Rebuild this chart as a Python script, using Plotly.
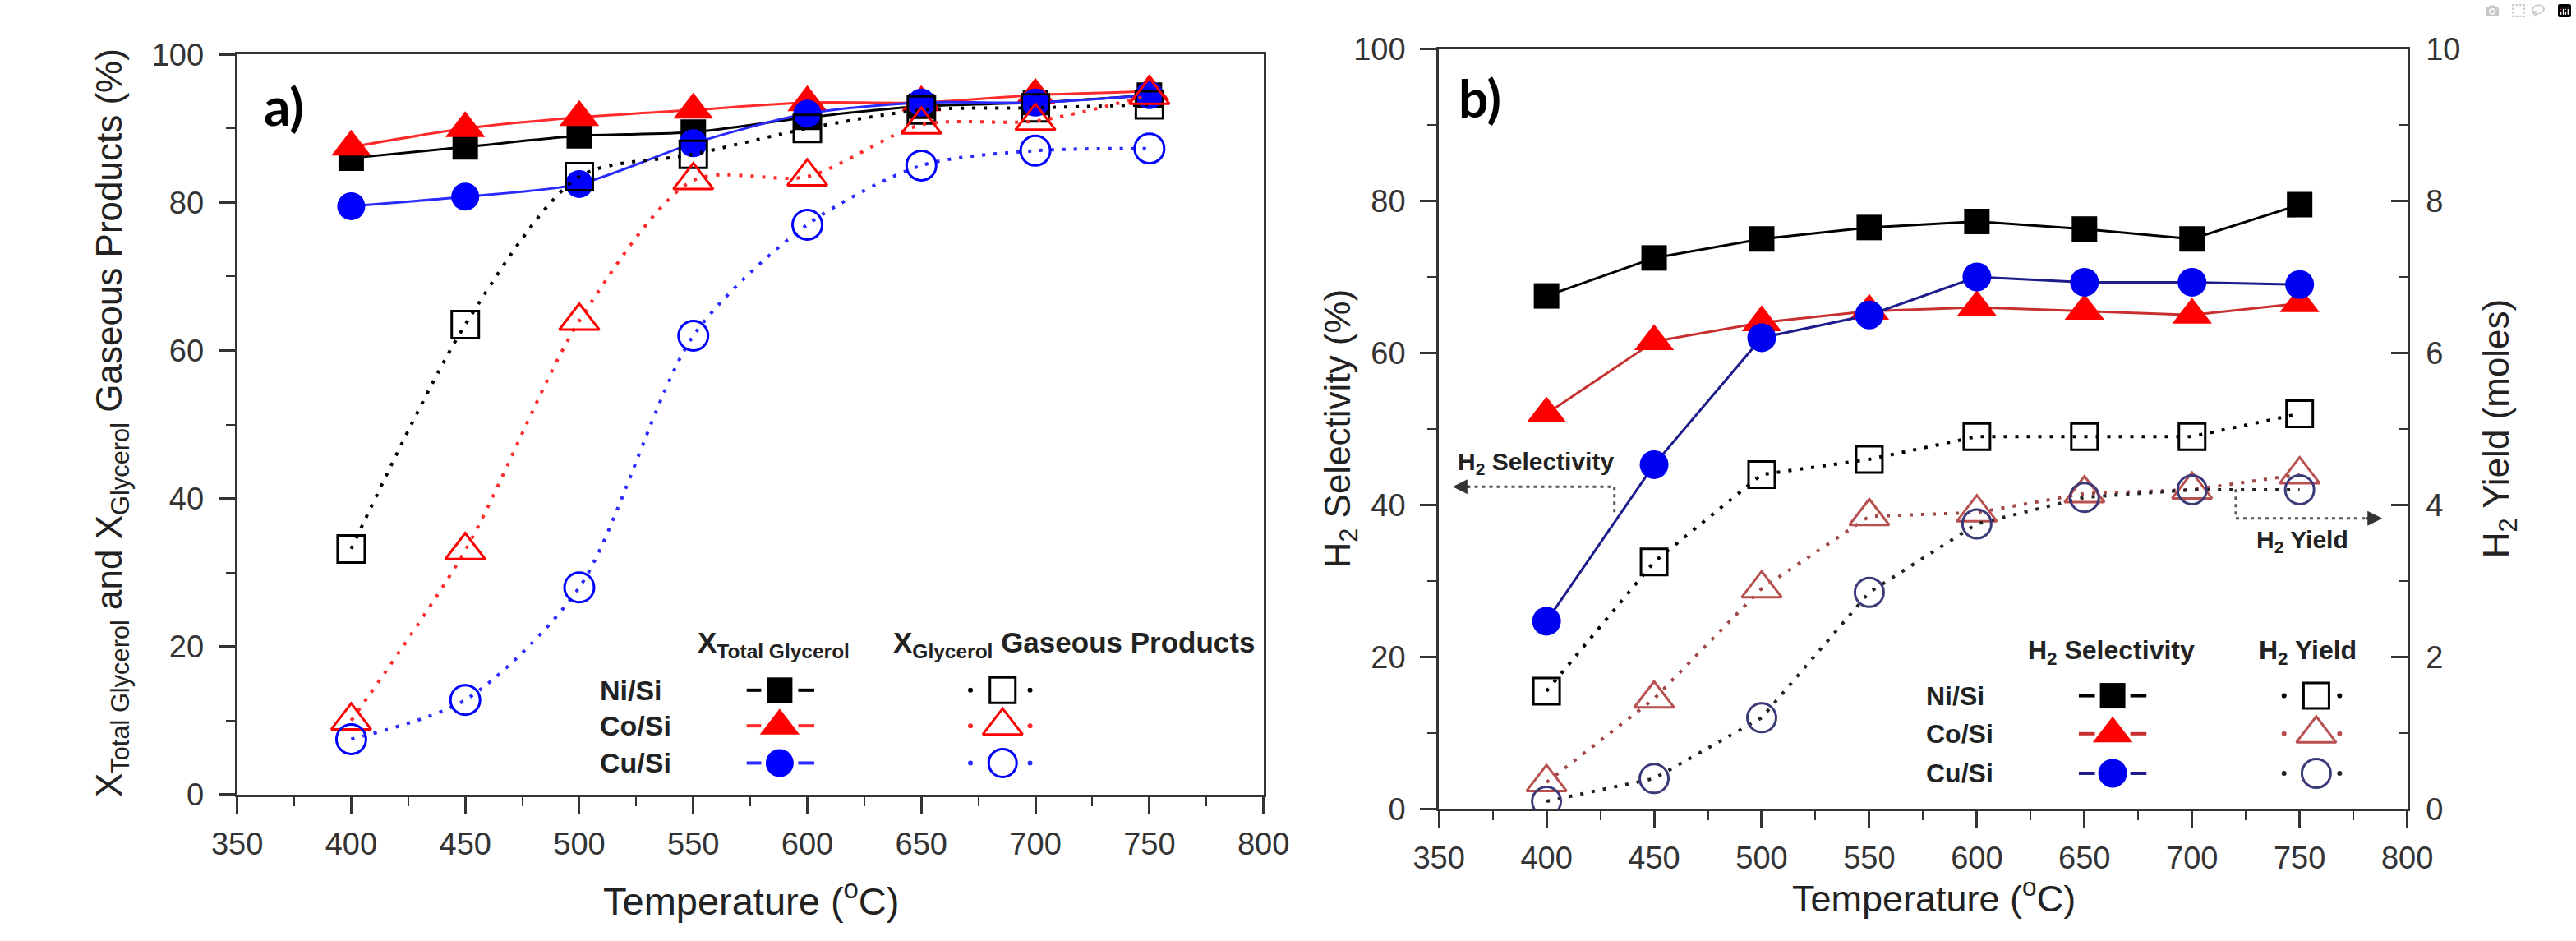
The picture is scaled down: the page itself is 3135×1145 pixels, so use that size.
import plotly.graph_objects as go

# ---------------- data ----------------
temps = [400, 450, 500, 550, 600, 650, 700, 750]

# panel a) conversion (%)
ni_total = [86.0, 87.5, 89.0, 89.5, 91.5, 93.0, 93.5, 94.5]
co_total = [87.5, 90.0, 91.5, 92.5, 93.5, 93.5, 94.5, 95.0]
cu_total = [79.5, 80.8, 82.5, 88.0, 92.0, 93.5, 93.5, 94.5]
ni_gas = [33.2, 63.5, 83.5, 86.5, 90.0, 92.5, 92.8, 93.2]
co_gas = [10.0, 33.0, 64.0, 83.0, 83.5, 90.5, 91.0, 94.5]
cu_gas = [7.5, 12.8, 28.0, 62.0, 77.0, 85.0, 87.0, 87.3]

# panel b) H2 selectivity (%) and H2 yield (moles)
ni_sel = [67.5, 72.5, 75.0, 76.5, 77.3, 76.3, 75.0, 79.5]
co_sel = [52.0, 61.5, 64.0, 65.5, 66.0, 65.5, 65.0, 66.5]
cu_sel = [24.7, 45.3, 62.0, 65.0, 70.0, 69.3, 69.3, 69.0]
ni_yield = [1.55, 3.25, 4.4, 4.6, 4.9, 4.9, 4.9, 5.2]
co_yield = [0.35, 1.45, 2.9, 3.85, 3.9, 4.15, 4.2, 4.4]
cu_yield = [0.1, 0.4, 1.2, 2.85, 3.75, 4.1, 4.2, 4.2]

catalysts = ["Ni/Si", "Co/Si", "Cu/Si"]
x_ticks = [350, 400, 450, 500, 550, 600, 650, 700, 750, 800]

# ---------------- geometry helpers ----------------
W, H = 3135, 1145
def px(x):
    return x / W
def py(y):
    return 1 - y / H

AX = "#333333"
FONT = "Liberation Sans, Arial, sans-serif"
DOT = "4px,10px"

fig = go.Figure()

# ---------------- panel a ----------------
a_sets = [
    (ni_total, ni_gas, "black", "black", "square", 31, 33),
    (co_total, co_gas, "#ff0000", "#ff2a2a", "triangle-up", 42, 42),
    (cu_total, cu_gas, "#0000ff", "#2a2aff", "circle", 34, 36),
]
for (tot, gas, mc, lc, sym, sz, osz), name in zip(a_sets, catalysts):
    fig.add_trace(go.Scatter(
        x=temps, y=tot, mode="lines+markers", name=name,
        line=dict(color=lc, width=3, shape="spline", smoothing=0.8),
        marker=dict(symbol=sym, size=sz, color=mc, line=dict(width=0)),
        xaxis="x", yaxis="y"))
for (tot, gas, mc, lc, sym, sz, osz), name in zip(a_sets, catalysts):
    fig.add_trace(go.Scatter(
        x=temps, y=gas, mode="lines+markers", name=name + " gas",
        line=dict(color=lc, width=4, dash=DOT, shape="spline", smoothing=0.8),
        marker=dict(symbol=sym, size=osz, color="rgba(255,255,255,0)",
                    line=dict(width=3, color=mc)),
        xaxis="x", yaxis="y"))

# ---------------- panel b ----------------
b_sel = [
    (ni_sel, "black", "black", "square", 31),
    (co_sel, "#ff0000", "#c83030", "triangle-up", 42),
    (cu_sel, "#0000f0", "#1c1c8c", "circle", 35),
]
for (vals, mc, lc, sym, sz), name in zip(b_sel, catalysts):
    fig.add_trace(go.Scatter(
        x=temps, y=vals, mode="lines+markers", name=name + " sel",
        line=dict(color=lc, width=3),
        marker=dict(symbol=sym, size=sz, color=mc, line=dict(width=0)),
        xaxis="x2", yaxis="y2"))
b_yield = [
    (ni_yield, "black", "black", "square", 32),
    (co_yield, "#b85050", "#a04848", "triangle-up", 42),
    (cu_yield, "#3a3a78", "#222222", "circle", 35),
]
for (vals, mc, lc, sym, sz), name in zip(b_yield, catalysts):
    fig.add_trace(go.Scatter(
        x=temps, y=vals, mode="lines+markers", name=name + " yield",
        line=dict(color=lc, width=4, dash=DOT),
        marker=dict(symbol=sym, size=sz, color="rgba(255,255,255,0)",
                    line=dict(width=3, color=mc)),
        xaxis="x2", yaxis="y3"))

# ---------------- custom legends (figure pixel axis) ----------------
def legend_block(rows_y, fx, dash_l, dash_r, ox, dots, styles):
    for ry, (mc, lc, sym, sz, omc, olc) in zip(rows_y, styles):
        fig.add_trace(go.Scatter(
            x=[dash_l[0], dash_l[1], None, dash_r[0], dash_r[1]],
            y=[ry, ry, None, ry, ry], mode="lines",
            line=dict(color=lc, width=4), xaxis="x4", yaxis="y4"))
        fig.add_trace(go.Scatter(
            x=[fx], y=[ry], mode="markers",
            marker=dict(symbol=sym, size=sz, color=mc, line=dict(width=0)),
            xaxis="x4", yaxis="y4"))
        fig.add_trace(go.Scatter(
            x=[dots[0], dots[1]], y=[ry, ry], mode="markers",
            marker=dict(symbol="circle", size=6, color=olc),
            xaxis="x4", yaxis="y4"))
        fig.add_trace(go.Scatter(
            x=[ox], y=[ry], mode="markers",
            marker=dict(symbol=sym, size=sz, color="rgba(255,255,255,0)",
                        line=dict(width=3, color=omc)),
            xaxis="x4", yaxis="y4"))

a_rows = [850, 895, 942]
legend_block(a_rows, 936, (895, 913), (959, 979), 1213, (1173, 1247), [
    ("black", "black", "square", 31, "black", "black"),
    ("#ff0000", "#ff2a2a", "triangle-up", 42, "#ff0000", "#ff2a2a"),
    ("#0000ff", "#2a2aff", "circle", 34, "#0000ff", "#2a2aff"),
])
b_rows = [857, 905, 955]
legend_block(b_rows, 2592, (2550, 2570), (2614, 2634), 2845, (2805, 2874), [
    ("black", "black", "square", 31, "black", "black"),
    ("#ff0000", "#c83030", "triangle-up", 42, "#b85050", "#b85050"),
    ("#0000f0", "#1c1c8c", "circle", 35, "#3a3a78", "#222222"),
])

annotations = []
def text(x, y, t, size, bold=False, xanchor="center", angle=0, color="#222222", family=FONT):
    annotations.append(dict(
        x=px(x), y=py(y), xref="paper", yref="paper", text=("<b>%s</b>" % t) if bold else t,
        showarrow=False, xanchor=xanchor, yanchor="middle", textangle=angle,
        font=dict(size=size, color=color, family=family)))

# legend labels a
for ry, name in zip(a_rows, catalysts):
    text(711, ry, name, 34, bold=True, xanchor="left")
text(928, 792, "X<sub>Total Glycerol</sub>", 35, bold=True)
text(1075, 792, "X<sub>Glycerol</sub> Gaseous Products", 35, bold=True, xanchor="left")
# legend labels b
for ry, name in zip(b_rows, catalysts):
    text(2358, ry, name, 32, bold=True, xanchor="left")
text(2590, 802, "H<sub>2</sub> Selectivity", 32, bold=True)
text(2834, 802, "H<sub>2</sub> Yield", 32, bold=True)

# panel letters
text(320, 112, "a)", 64, bold=True, family="Lato, Open Sans, sans-serif", color="black")
text(1806, 101, "b)", 64, bold=True, family="Lato, Open Sans, sans-serif", color="black")

# axis titles
text(900, 1113, "Temperature (<sup>o</sup>C)", 47)
text(2370, 1110, "Temperature (<sup>o</sup>C)", 45)
text(106, 512, "X<sub>Total Glycerol</sub> and X<sub>Glycerol</sub> Gaseous Products (%)", 44, angle=-90)
text(1632, 520, "H<sub>2</sub> Selectivity (%)", 44, angle=-90)
text(3072, 520, "H<sub>2</sub> Yield (moles)", 44, angle=-90)

# panel b pointer annotations
text(1875, 563, "H<sub>2</sub> Selectivity", 30, bold=True)
text(2828, 662, "H<sub>2</sub> Yield", 30, bold=True)
shapes = []
def dline(x0, y0, x1, y1):
    shapes.append(dict(type="line", xref="paper", yref="paper",
                       x0=px(x0), y0=py(y0), x1=px(x1), y1=py(y1),
                       line=dict(color="#555555", width=3, dash="4px,5px")))
dline(1790, 593, 1973, 593)
dline(1973, 593, 1973, 627)
dline(2745, 596, 2745, 633)
dline(2745, 633, 2910, 633)
annotations.append(dict(x=px(1772), y=py(593), xref="paper", yref="paper", text="",
                        showarrow=True, arrowhead=2, arrowsize=1.2, arrowwidth=3,
                        arrowcolor="#333333", ax=22, ay=0))
annotations.append(dict(x=px(2927), y=py(633), xref="paper", yref="paper", text="",
                        showarrow=True, arrowhead=2, arrowsize=1.2, arrowwidth=3,
                        arrowcolor="#333333", ax=-22, ay=0))

tickfont = dict(family=FONT, size=38, color="#333333")

def xax(domain):
    return dict(domain=domain, range=[350, 800], tickvals=x_ticks,
                ticks="outside", ticklen=20, tickwidth=3, tickcolor=AX,
                minor=dict(dtick=25, tick0=350, ticks="outside", ticklen=11,
                           tickwidth=2, tickcolor=AX),
                showline=True, linewidth=3, linecolor=AX, mirror=True,
                showgrid=False, zeroline=False, tickfont=tickfont,
                ticklabelstandoff=4, fixedrange=True)

def yax(domain, anchor):
    return dict(domain=domain, range=[0, 100], dtick=20, tick0=0, anchor=anchor,
                ticks="outside", ticklen=20, tickwidth=3, tickcolor=AX,
                minor=dict(dtick=10, tick0=0, ticks="outside", ticklen=11,
                           tickwidth=2, tickcolor=AX),
                showline=True, linewidth=3, linecolor=AX, mirror=True,
                showgrid=False, zeroline=False, tickfont=tickfont,
                ticklabelstandoff=10, fixedrange=True)

fig.update_layout(
    width=W, height=H, margin=dict(l=0, r=0, t=0, b=0),
    paper_bgcolor="white", plot_bgcolor="rgba(0,0,0,0)", showlegend=False,
    xaxis=dict(xax([px(262), px(1537)]), anchor="y"),
    yaxis=yax([py(982), py(47)], "x"),
    xaxis2=dict(xax([px(1755), px(2958)]), anchor="y2"),
    yaxis2=yax([py(1000), py(40)], "x2"),
    yaxis3=dict(range=[0, 10], dtick=2, tick0=0, overlaying="y2", side="right", anchor="x2",
                ticks="inside", ticklen=20, tickwidth=3, tickcolor=AX,
                minor=dict(dtick=1, tick0=0, ticks="inside", ticklen=10, tickwidth=2, tickcolor=AX),
                showline=True, linewidth=3, linecolor=AX, showgrid=False, zeroline=False,
                tickfont=tickfont, ticklabelstandoff=12, fixedrange=True),
    xaxis4=dict(domain=[0, 1], range=[0, W], visible=False, anchor="y4", fixedrange=True),
    yaxis4=dict(domain=[0, 1], range=[H, 0], visible=False, anchor="x4", fixedrange=True),
    annotations=annotations, shapes=shapes,
)

fig.write_html("out.html", post_script="document.body.style.margin='0';")
